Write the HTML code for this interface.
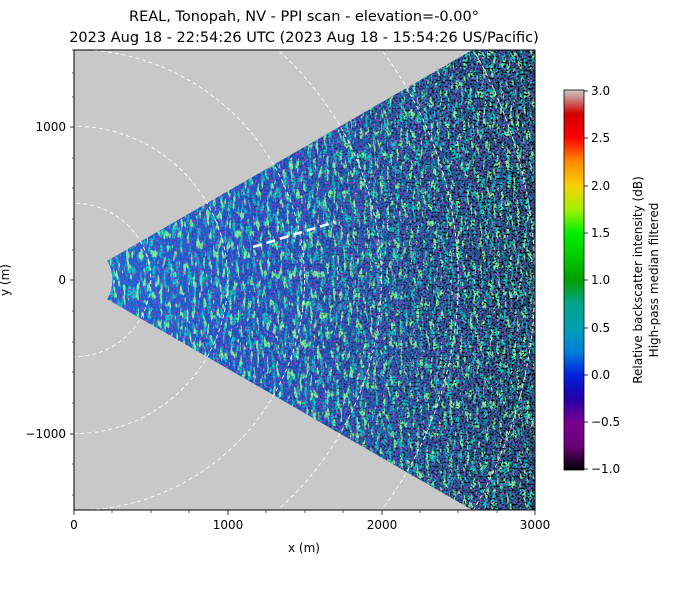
<!DOCTYPE html>
<html><head><meta charset="utf-8"><style>
html,body{margin:0;padding:0;background:#fff;overflow:hidden;width:677px;height:597px;}
svg{display:block;}
svg text{font-family:"DejaVu Sans","Liberation Sans",sans-serif;fill:#000;}
</style></head><body>
<svg width="677" height="597" viewBox="0 0 677 597" xmlns="http://www.w3.org/2000/svg">
<defs>
<clipPath id="plot"><rect x="74" y="50" width="461" height="460"/></clipPath>
<clipPath id="wedge"><path d="M107.3,260.8 L680.2,-70 L680.2,630 L107.3,299.2 A38.4,38.4 0 0 0 107.3,260.8 Z"/></clipPath>
<linearGradient id="wg" x1="0" y1="0" x2="1" y2="0">
<stop offset="0" stop-color="#1070d8"/>
<stop offset="0.4" stop-color="#1a5ad0"/>
<stop offset="0.7" stop-color="#2060b0"/>
<stop offset="1" stop-color="#205a80"/>
</linearGradient>
<filter id="n1" x="0" y="0" width="100%" height="100%">
<feTurbulence type="fractalNoise" baseFrequency="0.3 0.1" numOctaves="2" seed="3"/>
<feColorMatrix type="matrix" values="0 0 0 0 0.2  0 0 0 0 0.85  0 0 0 0 0.35  12 0 0 0 -7"/>
</filter>
<filter id="n2" x="0" y="0" width="100%" height="100%">
<feTurbulence type="fractalNoise" baseFrequency="0.45" numOctaves="2" seed="8"/>
<feColorMatrix type="matrix" values="0 0 0 0 0.3  0 0 0 0 0.05  0 0 0 0 0.6  12 0 0 0 -6.6"/>
</filter>
<filter id="n4" x="0" y="0" width="100%" height="100%">
<feTurbulence type="fractalNoise" baseFrequency="0.25 0.08" numOctaves="2" seed="21"/>
<feColorMatrix type="matrix" values="0 0 0 0 0  0 0 0 0 0.6  0 0 0 0 0.55  10 0 0 0 -5.4"/>
</filter>
<filter id="n3" x="0" y="0" width="100%" height="100%">
<feTurbulence type="fractalNoise" baseFrequency="0.5" numOctaves="2" seed="15"/>
<feColorMatrix type="matrix" values="0 0 0 0 0  0 0 0 0 0  0 0 0 0 0  12 0 0 0 -6.4"/>
</filter>
<linearGradient id="fade" x1="0" y1="0" x2="1" y2="0">
<stop offset="0" stop-color="#fff" stop-opacity="0"/>
<stop offset="0.5" stop-color="#fff" stop-opacity="0.3"/>
<stop offset="1" stop-color="#fff" stop-opacity="1"/>
</linearGradient>
<mask id="fm"><rect x="74" y="50" width="461" height="460" fill="url(#fade)"/></mask>
<linearGradient id="cb" x1="0" y1="1" x2="0" y2="0">
<stop offset="0" stop-color="#000000"/>
<stop offset="0.0625" stop-color="#6a0078"/>
<stop offset="0.125" stop-color="#7a0090"/>
<stop offset="0.1875" stop-color="#2200a8"/>
<stop offset="0.25" stop-color="#0022dd"/>
<stop offset="0.3125" stop-color="#0080dd"/>
<stop offset="0.375" stop-color="#00a0b0"/>
<stop offset="0.4375" stop-color="#00a488"/>
<stop offset="0.5" stop-color="#00a000"/>
<stop offset="0.5625" stop-color="#00cc00"/>
<stop offset="0.625" stop-color="#00f000"/>
<stop offset="0.6875" stop-color="#a8f000"/>
<stop offset="0.75" stop-color="#f8d000"/>
<stop offset="0.8125" stop-color="#ff8800"/>
<stop offset="0.875" stop-color="#ff0000"/>
<stop offset="0.9375" stop-color="#d00000"/>
<stop offset="1" stop-color="#cccccc"/>
</linearGradient>
</defs>
<text x="304" y="21" font-size="14.5" text-anchor="middle">REAL, Tonopah, NV - PPI scan - elevation=-0.00°</text>
<text x="304" y="42" font-size="14.5" text-anchor="middle">2023 Aug 18 - 22:54:26 UTC (2023 Aug 18 - 15:54:26 US/Pacific)</text>
<g clip-path="url(#plot)">
<rect x="74" y="50" width="461" height="460" fill="#c8c8c8"/>
<g clip-path="url(#wedge)">
<rect x="74" y="50" width="461" height="460" fill="url(#wg)"/>
<rect x="74" y="50" width="461" height="460" filter="url(#n4)"/>
<rect x="74" y="50" width="461" height="460" filter="url(#n2)"/>
<rect x="74" y="50" width="461" height="460" filter="url(#n1)"/>
<rect x="74" y="50" width="461" height="460" filter="url(#n3)" mask="url(#fm)"/>
</g>
<g fill="none" stroke="#fff" stroke-width="0.9" stroke-dasharray="4,3">
<circle cx="74" cy="280" r="76.8"/><circle cx="74" cy="280" r="153.7"/><circle cx="74" cy="280" r="230.5"/>
<circle cx="74" cy="280" r="307.3"/><circle cx="74" cy="280" r="384.2"/><circle cx="74" cy="280" r="461"/>
</g>
<line x1="253" y1="247" x2="335" y2="222" stroke="#fff" stroke-width="2.5" stroke-dasharray="9,5"/>
</g>
<rect x="74" y="50" width="461" height="460" fill="none" stroke="#000" stroke-width="1"/>
<g stroke="#000" stroke-width="0.8">
<line x1="74" y1="510" x2="74" y2="515"/><line x1="228" y1="510" x2="228" y2="515"/><line x1="382" y1="510" x2="382" y2="515"/><line x1="535" y1="510" x2="535" y2="515"/>
<line x1="70" y1="127" x2="74" y2="127"/><line x1="70" y1="280" x2="74" y2="280"/><line x1="70" y1="434" x2="74" y2="434"/>
<g stroke-width="0.6">
<line x1="112" y1="510" x2="112" y2="513"/><line x1="151" y1="510" x2="151" y2="513"/><line x1="189" y1="510" x2="189" y2="513"/>
<line x1="266" y1="510" x2="266" y2="513"/><line x1="305" y1="510" x2="305" y2="513"/><line x1="343" y1="510" x2="343" y2="513"/>
<line x1="420" y1="510" x2="420" y2="513"/><line x1="458" y1="510" x2="458" y2="513"/><line x1="497" y1="510" x2="497" y2="513"/>
<line x1="72" y1="50" x2="74" y2="50"/><line x1="72" y1="73" x2="74" y2="73"/><line x1="72" y1="97" x2="74" y2="97"/><line x1="72" y1="158" x2="74" y2="158"/><line x1="72" y1="188" x2="74" y2="188"/><line x1="72" y1="219" x2="74" y2="219"/><line x1="72" y1="250" x2="74" y2="250"/>
<line x1="72" y1="311" x2="74" y2="311"/><line x1="72" y1="342" x2="74" y2="342"/><line x1="72" y1="372" x2="74" y2="372"/><line x1="72" y1="403" x2="74" y2="403"/><line x1="72" y1="464" x2="74" y2="464"/><line x1="72" y1="495" x2="74" y2="495"/>
</g></g>
<g font-size="12" text-anchor="middle">
<text x="74" y="529">0</text><text x="228" y="529">1000</text><text x="382" y="529">2000</text><text x="535" y="529">3000</text>
<text x="304" y="552">x (m)</text>
</g>
<g font-size="12" text-anchor="end">
<text x="66" y="131">1000</text><text x="66" y="284">0</text><text x="66" y="438">−1000</text>
</g>
<text transform="translate(9,280) rotate(-90)" font-size="12" text-anchor="middle">y (m)</text>
<rect x="564" y="90" width="20" height="380" fill="url(#cb)" stroke="#000" stroke-width="0.8"/>
<g stroke="#000" stroke-width="0.8">
<line x1="584" y1="91" x2="588" y2="91"/><line x1="584" y1="138" x2="588" y2="138"/><line x1="584" y1="186" x2="588" y2="186"/><line x1="584" y1="233" x2="588" y2="233"/><line x1="584" y1="280" x2="588" y2="280"/><line x1="584" y1="328" x2="588" y2="328"/><line x1="584" y1="375" x2="588" y2="375"/><line x1="584" y1="422" x2="588" y2="422"/><line x1="584" y1="469" x2="588" y2="469"/>
</g>
<g font-size="12">
<text x="591" y="95">3.0</text><text x="591" y="142">2.5</text><text x="591" y="190">2.0</text><text x="591" y="237">1.5</text><text x="591" y="284">1.0</text><text x="591" y="332">0.5</text><text x="591" y="379">0.0</text><text x="591" y="426">−0.5</text><text x="591" y="473">−1.0</text>
</g>
<text transform="translate(642,280) rotate(-90)" font-size="12" text-anchor="middle">Relative backscatter intensity (dB)</text>
<text transform="translate(658,280) rotate(-90)" font-size="12" text-anchor="middle">High-pass median filtered</text>
</svg>
</body></html>
